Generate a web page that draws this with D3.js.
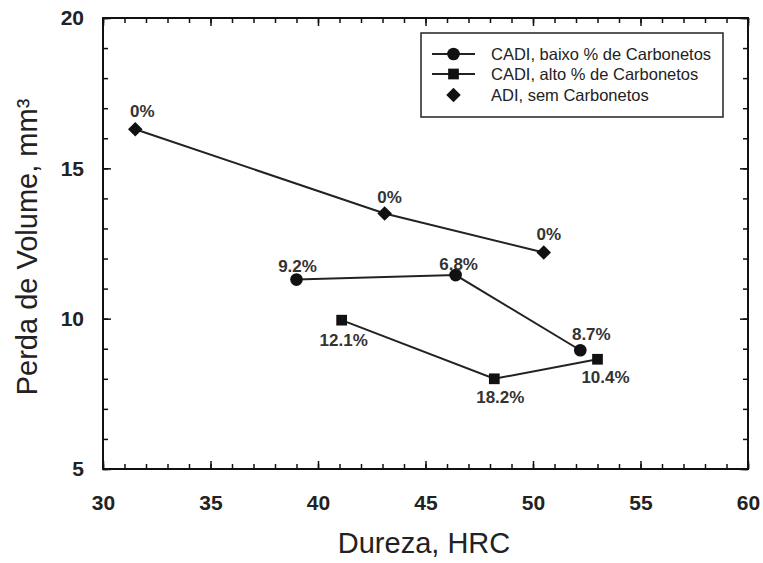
<!DOCTYPE html>
<html>
<head>
<meta charset="utf-8">
<script src="https://cdn.jsdelivr.net/npm/d3@7"></script>
<style>
  body { margin: 0; background: #fff; }
  text { font-family: "Liberation Sans", Arial, sans-serif; }
</style>
</head>
<body>
<div id="chart-area"></div>
<script>
// data
var seriesNames = ["CADI, baixo % de Carbonetos", "CADI, alto % de Carbonetos", "ADI, sem Carbonetos"];

var baixoX = [39.0, 46.4, 52.2];
var baixoY = [11.3, 11.45, 8.95];
var baixoLabels = ["9.2%", "6.8%", "8.7%"];

var altoX = [41.1, 48.2, 53.0];
var altoY = [9.95, 8.0, 8.65];
var altoLabels = ["12.1%", "18.2%", "10.4%"];

var adiX = [31.5, 43.1, 50.5];
var adiY = [16.3, 13.5, 12.2];
var adiLabels = ["0%", "0%", "0%"];

var xTicks = [30, 35, 40, 45, 50, 55, 60];
var yTicks = [5, 10, 15, 20];

var margin = {top: 18, right: 15, bottom: 94, left: 103};
var width = 763;
var height = 563;
var w = width - margin.left - margin.right;
var h = height - margin.top - margin.bottom;

var svg = d3.select("#chart-area").append("svg")
	.attr("width", width)
	.attr("height", height);

var g = svg.append("g")
	.attr("transform", "translate(" + margin.left + ", " + margin.top + ")");

var x = d3.scaleLinear().domain([30, 60]).range([0, w]);
var y = d3.scaleLinear().domain([5, 20]).range([h, 0]);

var minorX = d3.range(30, 61, 1);
var minorY = d3.range(5, 21, 1);

// ticks, all pointing inwards
function addAxis(axis, tr, cls) {
	var a = g.append("g").attr("class", cls).attr("transform", tr).call(axis);
	a.select(".domain").remove();
	a.selectAll("line").attr("stroke", "#111").attr("stroke-width", 1.5);
	return a;
}

addAxis(d3.axisBottom(x).tickValues(minorX).tickSize(-5).tickFormat(""), "translate(0," + h + ")", "minor");
addAxis(d3.axisTop(x).tickValues(minorX).tickSize(-5).tickFormat(""), "translate(0,0)", "minor");
addAxis(d3.axisLeft(y).tickValues(minorY).tickSize(-5).tickFormat(""), "translate(0,0)", "minor");
addAxis(d3.axisRight(y).tickValues(minorY).tickSize(-5).tickFormat(""), "translate(" + w + ",0)", "minor");

var bx = addAxis(d3.axisBottom(x).tickValues(xTicks).tickSize(-8).tickPadding(26), "translate(0," + h + ")", "x axis");
bx.selectAll("text")
	.attr("font-size", "21px")
	.attr("font-weight", "bold")
	.attr("fill", "#222")
	.style("font-family", "'Liberation Sans', Arial, sans-serif");
addAxis(d3.axisTop(x).tickValues(xTicks).tickSize(-8).tickFormat(""), "translate(0,0)", "x top");

var ly = addAxis(d3.axisLeft(y).tickValues(yTicks).tickSize(-8).tickPadding(19), "translate(0,0)", "y axis");
ly.selectAll("text")
	.attr("font-size", "21px")
	.attr("font-weight", "bold")
	.attr("fill", "#222")
	.style("font-family", "'Liberation Sans', Arial, sans-serif");
addAxis(d3.axisRight(y).tickValues(yTicks).tickSize(-8).tickFormat(""), "translate(" + w + ",0)", "y right");

// frame
g.append("rect")
	.attr("x", 0).attr("y", 0)
	.attr("width", w).attr("height", h)
	.attr("fill", "none")
	.attr("stroke", "#111")
	.attr("stroke-width", 2);

var line = d3.line()
	.x((d) => { return x(d[0]); })
	.y((d) => { return y(d[1]); });

function pts(xs, ys) {
	return xs.map((v, i) => { return [v, ys[i]]; });
}

var baixo = pts(baixoX, baixoY);
var alto = pts(altoX, altoY);
var adi = pts(adiX, adiY);

[adi, baixo, alto].forEach((s) => {
	g.append("path")
		.datum(s)
		.attr("d", line)
		.attr("fill", "none")
		.attr("stroke", "#222")
		.attr("stroke-width", 2);
});

var circle = d3.symbol().type(d3.symbolCircle).size(125);
var square = d3.symbol().type(d3.symbolSquare).size(115);
var diamond = d3.symbol().type(d3.symbolDiamond2).size(135);

function drawMarks(data, sym) {
	g.selectAll(null).data(data).enter()
		.append("path")
		.attr("d", sym)
		.attr("transform", (d) => { return "translate(" + x(d[0]) + "," + y(d[1]) + ")"; })
		.attr("fill", "#111");
}
drawMarks(baixo, circle);
drawMarks(alto, square);
drawMarks(adi, diamond);

// point labels (offsets in px)
function drawLabels(data, labels, offs) {
	g.selectAll(null).data(data).enter()
		.append("text")
		.attr("x", (d, i) => { return x(d[0]) + offs[i][0]; })
		.attr("y", (d, i) => { return y(d[1]) + offs[i][1]; })
		.attr("text-anchor", "middle")
		.attr("font-size", "17px")
		.attr("font-weight", "bold")
		.attr("fill", "#333")
		.text((d, i) => { return labels[i]; });
}
drawLabels(adi, adiLabels, [[7, -12], [5, -10], [5, -13]]);
drawLabels(baixo, baixoLabels, [[1, -8], [3, -5], [11, -10]]);
drawLabels(alto, altoLabels, [[2, 26], [6, 24], [8, 24]]);

// legend
var lg = svg.append("g").attr("transform", "translate(421, 33)");
lg.append("rect")
	.attr("width", 302).attr("height", 84)
	.attr("fill", "#fff")
	.attr("stroke", "#222")
	.attr("stroke-width", 1.5);

var legSyms = [circle, square, diamond];
var legRows = [21, 41, 62];
seriesNames.forEach((name, i) => {
	var row = lg.append("g").attr("transform", "translate(0," + legRows[i] + ")");
	if (i < 2) {
		row.append("line")
			.attr("x1", 11).attr("x2", 54)
			.attr("stroke", "#222").attr("stroke-width", 2);
	}
	row.append("path")
		.attr("d", legSyms[i])
		.attr("transform", "translate(32.5,0)")
		.attr("fill", "#111");
	row.append("text")
		.attr("x", 70).attr("y", 6)
		.attr("font-size", "16.5px")
		.attr("fill", "#222")
		.text(name);
});

// axis titles
svg.append("text")
	.attr("x", 424)
	.attr("y", 553)
	.attr("font-size", "29px")
	.attr("text-anchor", "middle")
	.attr("fill", "#222")
	.text("Dureza, HRC");

svg.append("text")
	.attr("transform", "translate(37, 247) rotate(-90)")
	.attr("font-size", "29px")
	.attr("text-anchor", "middle")
	.attr("fill", "#222")
	.text("Perda de Volume, mm\u00b3");
</script>
</body>
</html>
